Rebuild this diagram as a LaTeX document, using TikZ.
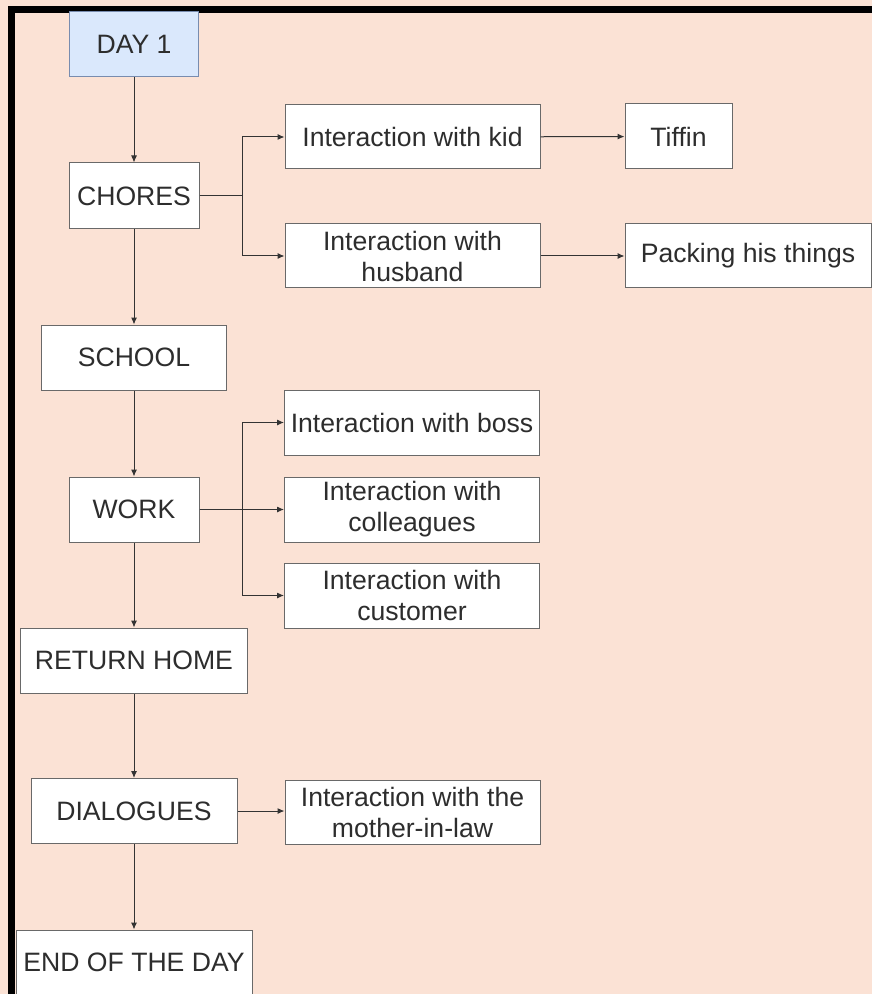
\documentclass[tikz,border=0pt]{standalone}
\usepackage{fontspec}
\setmainfont{Liberation Sans}
\usepackage{xcolor}
\usetikzlibrary{positioning,arrows.meta,calc}
\definecolor{peach}{RGB}{251,226,213}
\definecolor{dayfill}{RGB}{218,232,252}
\definecolor{dayline}{RGB}{120,140,175}
\definecolor{boxline}{RGB}{105,105,105}
\definecolor{txt}{RGB}{45,45,45}
\tikzstyle{box}=[draw=boxline, fill=white, line width=0.5pt, inner sep=0,
		minimum height=32.5pt, align=center, text=txt,
		font=\fontsize{13.3}{15.5}\selectfont]
\tikzstyle{daybox}=[box, draw=dayline, fill=dayfill]
\tikzstyle{arr}=[-{Latex[length=3.5pt,width=3pt]}, line width=0.5pt, draw=black!80]

\begin{document}
\begin{tikzpicture}[x=0.5pt, y=-0.5pt]
        \fill[peach] (0,0) rectangle (872,994);
        \useasboundingbox (0,0) rectangle (872,994);
        \fill[black] (8,6) rectangle (872,13);
        \fill[black] (8,6) rectangle (15,994);

        \node[daybox, minimum width=64.5pt] (day1) at (134,44.5) {DAY 1};
        \node[box, minimum width=65pt, minimum height=33pt] (chores) at (134,196) {CHORES};
        \node[box, minimum width=127.5pt, minimum height=32pt] (kid) at (412.5,137) {Interaction with kid};
        \node[box, minimum width=53.5pt] (tiffin) at (678.5,136.5) {Tiffin};
        \node[box, minimum width=127.5pt, minimum height=32pt] (husband) at (412.5,256) {Interaction with\\husband};
        \node[box, minimum width=123pt, minimum height=32pt] (packing) at (748,256) {Packing his things};
        \node[box, minimum width=92.5pt] (school) at (134,357.5) {SCHOOL};
        \node[box, minimum width=65pt] (work) at (134,509.5) {WORK};
        \node[box, minimum width=127.5pt] (boss) at (412,422.5) {Interaction with boss};
        \node[box, minimum width=127.5pt] (colleagues) at (412,509.5) {Interaction with\\colleagues};
        \node[box, minimum width=127.5pt] (customer) at (412,595.5) {Interaction with\\customer};
        \node[box, minimum width=113.5pt] (rethome) at (134,660.5) {RETURN HOME};
        \node[box, minimum width=103pt] (dialogues) at (134,811) {DIALOGUES};
        \node[box, minimum width=127.5pt, minimum height=32pt] (motherinlaw) at (412.5,812) {Interaction with the\\mother-in-law};
        \node[box, minimum width=118pt] (endday) at (134,962.5) {END OF THE DAY};

        \draw[arr] (day1) -- (chores);
        \draw[arr] (chores) -- (school);
        \draw[arr] (school) -- (work);
        \draw[arr] (work) -- (rethome);
        \draw[arr] (rethome) -- (dialogues);
        \draw[arr] (dialogues) -- (endday);

        \draw[arr] (chores.east) -- ++(43,0) |- (kid.west);
        \draw[arr] (chores.east) -- ++(43,0) |- (husband.west);
        \draw[arr] (kid) -- (tiffin);
        \draw[arr] (husband) -- (packing);

        \draw[arr] (work.east) -- ++(43,0) |- (boss.west);
        \draw[arr] (work.east) -- (colleagues.west);
        \draw[arr] (work.east) -- ++(43,0) |- (customer.west);
        \draw[arr] (dialogues.east) -- (dialogues.east -| motherinlaw.west);
    \end{tikzpicture}
\end{document}
